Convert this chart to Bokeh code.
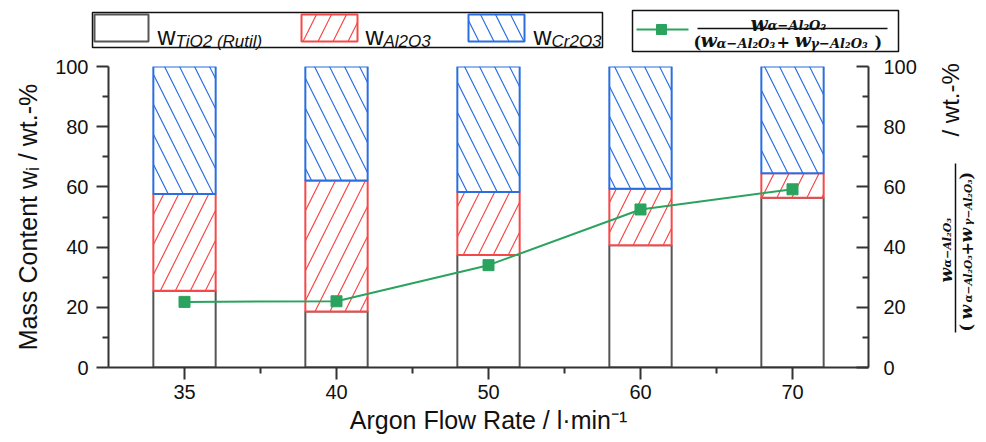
import math
from bokeh.plotting import figure
from bokeh.layouts import column, row
from bokeh.models import Range1d, LinearAxis, FixedTicker, ColumnDataSource
from bokeh.embed import file_html
from bokeh.resources import INLINE

# ---------------- data ----------------
categories = ["35", "40", "50", "60", "70"]          # Argon flow rate / l·min-1
w_TiO2 = [25.5, 18.6, 37.4, 40.6, 56.4]               # wt.-%
w_Al2O3 = [32.1, 43.5, 20.9, 18.8, 8.1]               # wt.-%
w_Cr2O3 = [42.4, 37.9, 41.7, 40.6, 35.5]              # wt.-%
alpha_ratio = [21.8, 22.0, 34.0, 52.5, 59.2]          # w_a / (w_a + w_g), %
y_ticks = [0, 20, 40, 60, 80, 100]
y_minor = [10, 30, 50, 70, 90]

# ---------------- styles ----------------
GREY = "#555555"
RED = "#f54848"
BLUE = "#2a6ee0"
GREEN = "#2aa35e"
AXC = "#333333"
TXT = "#111111"
SANS = "Liberation Sans"
SERIF = "DejaVu Serif"
HS = 30      # hatch scale
HW = 1.2     # hatch weight

W, H = 986, 442
TOP_H = 54          # legend strip height
SIDE_W = 60         # right label strip width

n = len(categories)
xs = [i + 0.5 for i in range(n)]
b0 = [0.0] * n
t0 = list(w_TiO2)
t1 = [a + b for a, b in zip(t0, w_Al2O3)]
t2 = [a + b for a, b in zip(t1, w_Cr2O3)]
src = ColumnDataSource(dict(x=xs, b0=b0, t0=t0, t1=t1, t2=t2, r=alpha_ratio))

# ---------------- main plot ----------------
p = figure(width=W - SIDE_W, height=H - TOP_H, x_range=Range1d(0, n), y_range=Range1d(0, 100),
           output_backend="svg", toolbar_location=None,
           min_border_left=108, min_border_right=58, min_border_top=12,
           min_border_bottom=75)
p.outline_line_color = None
p.xgrid.visible = False
p.ygrid.visible = False

BW = 0.41
p.vbar(x="x", bottom="b0", top="t0", width=BW, source=src, fill_color="white",
       line_color=GREY, line_width=2)
p.vbar(x="x", bottom="t0", top="t1", width=BW, source=src, fill_color="white",
       line_color=RED, line_width=2, hatch_pattern="/", hatch_color=RED,
       hatch_scale=HS, hatch_weight=HW)
p.vbar(x="x", bottom="t1", top="t2", width=BW, source=src, fill_color="white",
       line_color=BLUE, line_width=2, hatch_pattern="\\", hatch_color=BLUE,
       hatch_scale=HS, hatch_weight=HW)
p.line(x="x", y="r", source=src, line_color=GREEN, line_width=2)
p.scatter(x="x", y="r", source=src, marker="square", size=11, fill_color=GREEN,
          line_color=GREEN)

xa = p.xaxis[0]
xa.ticker = FixedTicker(ticks=xs, minor_ticks=list(range(1, n)))
xa.major_label_overrides = {x: c for x, c in zip(xs, categories)}
xa.axis_label = "Argon Flow Rate / l·min⁻¹"

ya = p.yaxis[0]
ya.ticker = FixedTicker(ticks=y_ticks, minor_ticks=y_minor)
ya.axis_label = "Mass Content wᵢ / wt.-%"

ra = LinearAxis(ticker=FixedTicker(ticks=y_ticks, minor_ticks=y_minor))
p.add_layout(ra, "right")

for ax in (xa, ya, ra):
    ax.axis_line_color = AXC
    ax.axis_line_width = 2
    ax.major_tick_line_color = AXC
    ax.minor_tick_line_color = AXC
    ax.major_tick_line_width = 2
    ax.minor_tick_line_width = 2
    ax.major_label_text_font = SANS
    ax.major_label_text_font_size = "20px"
    ax.major_label_text_color = TXT
    ax.axis_label_text_font = SANS
    ax.axis_label_text_font_size = "25px"
    ax.axis_label_text_font_style = "normal"
    ax.axis_label_text_color = TXT

xa.major_tick_out, xa.major_tick_in = 12, 0
xa.minor_tick_out, xa.minor_tick_in = 6, 0
xa.major_label_standoff = 5
xa.axis_label_standoff = 4

ya.major_tick_out, ya.major_tick_in = 12, 0
ya.minor_tick_out, ya.minor_tick_in = 6, 0
ya.major_label_standoff = 8
ya.axis_label_standoff = 10

ra.major_tick_out, ra.major_tick_in = 0, 12
ra.minor_tick_out, ra.minor_tick_in = 0, 6
ra.major_label_standoff = 15


def blank(width, height, x0, x1, y0, y1):
    f = figure(width=width, height=height, x_range=Range1d(x0, x1), y_range=Range1d(y0, y1),
               output_backend="svg", toolbar_location=None, x_axis_location=None,
               y_axis_location=None, min_border=0, min_border_left=0, min_border_right=0,
               min_border_top=0, min_border_bottom=0)
    f.outline_line_color = None
    f.grid.visible = False
    return f


def draw_texts(fig, pieces, ymap):
    d = dict(x=[], y=[], text=[], font=[], size=[], style=[], angle=[])
    for text, X, Y, size, font, style, angle in pieces:
        d["x"].append(X)
        d["y"].append(ymap(Y))
        d["text"].append(text)
        d["font"].append(font)
        d["size"].append(f"{size}px")
        d["style"].append(style)
        d["angle"].append(angle)
    fig.text(x="x", y="y", text="text", text_font="font", text_font_size="size",
             text_font_style="style", angle="angle", text_align="left",
             text_baseline="alphabetic", text_color=TXT, source=ColumnDataSource(d))


# ---------------- legend strip (page px coordinates) ----------------
t = blank(W, TOP_H, 0, W, 0, TOP_H)
ty = lambda Y: TOP_H - Y


def tquad(L, R, T, B, **kw):
    t.quad(left=[L], right=[R], top=[ty(T)], bottom=[ty(B)], **kw)


tquad(92, 602, 12, 47, fill_color="white", line_color=TXT, line_width=1.5)
tquad(94, 148, 14, 41, fill_color="white", line_color=GREY, line_width=2)
tquad(301, 357, 14, 41, fill_color="white", line_color=RED, line_width=2,
      hatch_pattern="/", hatch_color=RED, hatch_scale=HS, hatch_weight=HW)
tquad(468, 524, 14, 41, fill_color="white", line_color=BLUE, line_width=2,
      hatch_pattern="\\", hatch_color=BLUE, hatch_scale=HS, hatch_weight=HW)

tquad(632, 898, 10, 51, fill_color="white", line_color=TXT, line_width=1.5)
t.line(x=[636, 688], y=[ty(29), ty(29)], line_color=GREEN, line_width=2)
t.scatter(x=[661], y=[ty(29)], marker="square", size=10, fill_color=GREEN, line_color=GREEN)
t.line(x=[697, 887], y=[ty(28), ty(28)], line_color=TXT, line_width=1.5)

BI = "bold italic"
legend_texts = [
    ("w", 157, 35, 25, SANS, "normal", 0.0),
    ("TiO2 (Rutil)", 175, 40.5, 17, SANS, "italic", 0.0),
    ("w", 365, 35, 25, SANS, "normal", 0.0),
    ("Al2O3", 383, 40.5, 17, SANS, "italic", 0.0),
    ("w", 533, 35, 25, SANS, "normal", 0.0),
    ("Cr2O3", 551, 40.5, 17, SANS, "italic", 0.0),
    ("w", 750, 23, 20, SERIF, BI, 0.0),
    ("α−Al₂O₃", 767, 25, 13, SERIF, BI, 0.0),
    ("(", 693, 41.5, 16, SERIF, "bold", 0.0),
    ("w", 700, 39.5, 19, SERIF, BI, 0.0),
    ("α−Al₂O₃", 716, 43, 13, SERIF, BI, 0.0),
    ("+", 776, 41, 16, SERIF, "bold", 0.0),
    ("w", 794, 39.5, 19, SERIF, BI, 0.0),
    ("γ−Al₂O₃", 810, 43, 13, SERIF, BI, 0.0),
    (")", 874, 41.5, 16, SERIF, "bold", 0.0),
]
draw_texts(t, legend_texts, ty)

# ---------------- right label strip (page px coordinates) ----------------
SH = H - TOP_H
s = blank(SIDE_W, SH, W - SIDE_W, W, 0, SH)
sy_ = lambda Y: H - Y
s.line(x=[955, 955], y=[sy_(163), sy_(332)], line_color=TXT, line_width=1.5)
R90 = math.pi / 2
side_texts = [
    ("/ wt.-%", 950, 136, 24, SANS, "normal", R90),
    ("w", 945, 282, 17, SERIF, BI, R90),
    ("α−Al₂O₃", 947, 267, 11, SERIF, BI, R90),
    ("(", 966, 331, 16, SERIF, "bold", R90),
    ("w", 965, 319, 17, SERIF, BI, R90),
    ("α−Al₂O₃", 967, 302, 10.5, SERIF, BI, R90),
    ("+", 966, 255, 16, SERIF, "bold", R90),
    ("w", 965, 242, 17, SERIF, BI, R90),
    ("γ−Al₂O₃", 967, 225, 10.5, SERIF, BI, R90),
    (")", 966, 179, 16, SERIF, "bold", R90),
]
draw_texts(s, side_texts, sy_)

layout = column(t, row(column(p), s, spacing=0), spacing=0)
open("out.html", "w").write(file_html(layout, INLINE))
